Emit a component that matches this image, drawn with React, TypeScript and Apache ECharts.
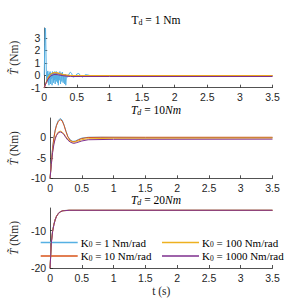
import React, { useEffect, useRef } from "react";
import * as echarts from "echarts";

const xTicks = [0, 0.5, 1, 1.5, 2, 2.5, 3, 3.5];
const seriesNames = ["K0 = 1 Nm/rad", "K0 = 10 Nm/rad", "K0 = 100 Nm/rad", "K0 = 1000 Nm/rad"];
const legendLabels = ["1", "10", "100", "1000"];
const panelTitles = ["1", "10", "20"];

// Panel 1: T_d = 1 Nm
const p1K1: number[][] = [
  [0, 0], [0.008, 2.5], [0.014, 3.8], [0.02, 3.7], [0.026, 2.0], [0.032, 0.3], [0.038, -0.5], [0.045, 0.3],
  [0.05, -0.2], [0.055, 0.35], [0.06, -0.6], [0.066, 0.1], [0.072, -0.8], [0.078, 0.2], [0.084, -0.4],
  [0.09, 0.3], [0.096, -0.7], [0.102, 0.2], [0.108, -0.3], [0.114, 0.1], [0.12, -0.8], [0.126, 0.3],
  [0.132, -0.2], [0.138, 0.2], [0.144, -0.6], [0.15, 0.1], [0.156, -0.4], [0.162, 0.3], [0.168, -0.7],
  [0.174, 0.2], [0.18, -0.3], [0.186, 0.3], [0.192, -0.5], [0.198, 0.1], [0.204, -0.6], [0.21, 0.2],
  [0.216, -0.8], [0.222, 0.0], [0.23, -0.4], [0.24, 0.3], [0.25, -0.7], [0.26, 0.2], [0.27, -0.5],
  [0.28, 0.25], [0.29, -0.6], [0.3, 0.1], [0.31, -0.7], [0.32, 0.1], [0.33, -0.8], [0.34, -0.1],
  [0.36, -0.15], [0.38, 0.1], [0.4, 0.25], [0.42, 0.15], [0.44, -0.15], [0.47, -0.1], [0.5, 0.1],
  [0.53, 0.15], [0.56, -0.05], [0.59, -0.15], [0.63, 0.05], [0.67, 0.02], [0.72, -0.05], [0.8, -0.05],
  [1.0, -0.05], [3.5, -0.05],
];
const p1K10: number[][] = [
  [0, -1], [0.03, -0.6], [0.06, -0.2], [0.1, 0.1], [0.15, 0.2], [0.2, 0.18], [0.25, 0.1], [0.3, 0.02],
  [0.4, -0.03], [0.5, -0.03], [1, -0.03], [3.5, -0.03],
];
const p1K100: number[][] = [
  [0, -1], [0.03, -0.55], [0.06, -0.15], [0.1, 0.12], [0.15, 0.22], [0.2, 0.2], [0.25, 0.12], [0.3, 0.05],
  [0.4, -0.02], [1, -0.03], [3.5, -0.03],
];
const p1K1000: number[][] = [
  [0, -1], [0.03, -0.6], [0.06, -0.3], [0.1, -0.05], [0.15, 0.06], [0.2, 0.05], [0.3, -0.05], [0.4, -0.1],
  [1, -0.1], [3.5, -0.1],
];

// Panel 2: T_d = 10 Nm
const p2K1: number[][] = [
  [0, -10], [0.02, -6], [0.04, -2.5], [0.06, 0], [0.08, 1.8], [0.1, 3], [0.13, 4.1], [0.16, 4.6], [0.19, 4.2],
  [0.22, 3], [0.25, 1.5], [0.28, 0.2], [0.32, -0.7], [0.36, -1], [0.4, -0.9], [0.45, -0.5], [0.5, -0.2],
  [0.6, 0], [0.8, 0], [1.5, -0.05], [3.5, -0.05],
];
const p2K10: number[][] = [
  [0, -10], [0.02, -6.1], [0.04, -2.7], [0.06, -0.2], [0.08, 1.6], [0.1, 2.8], [0.13, 3.9], [0.16, 4.3],
  [0.19, 4.0], [0.22, 2.9], [0.25, 1.4], [0.28, 0.1], [0.32, -0.8], [0.36, -1.1], [0.4, -1], [0.45, -0.6],
  [0.5, -0.3], [0.6, -0.05], [0.8, 0], [1.5, 0], [3.5, 0],
];
const p2K100: number[][] = [
  [0, -10], [0.02, -6.5], [0.04, -3.5], [0.06, -1.5], [0.08, -0.2], [0.1, 0.6], [0.13, 1.3], [0.16, 1.5],
  [0.19, 1.3], [0.22, 0.8], [0.25, 0.1], [0.28, -0.5], [0.32, -1], [0.37, -1.2], [0.42, -1], [0.5, -0.6],
  [0.6, -0.35], [1, -0.25], [3.5, -0.2],
];
const p2K1000: number[][] = [
  [0, -10], [0.02, -6.6], [0.04, -3.7], [0.06, -1.7], [0.08, -0.4], [0.1, 0.4], [0.13, 1.1], [0.16, 1.3],
  [0.19, 1.1], [0.22, 0.6], [0.25, -0.1], [0.28, -0.7], [0.32, -1.2], [0.37, -1.5], [0.42, -1.3],
  [0.5, -0.9], [0.6, -0.6], [1, -0.5], [3.5, -0.45],
];

// Panel 3: T_d = 20 Nm
const p3K1: number[][] = [
  [0, -20], [0.02, -13], [0.04, -10], [0.06, -8.3], [0.08, -7], [0.1, -6.2], [0.13, -5.4], [0.16, -5],
  [0.2, -4.7], [0.3, -4.6], [3.5, -4.6],
];
const p3K10: number[][] = [
  [0, -20], [0.02, -13.1], [0.04, -10.1], [0.06, -8.4], [0.08, -7.1], [0.1, -6.2], [0.13, -5.4], [0.16, -5],
  [0.2, -4.7], [0.3, -4.6], [3.5, -4.6],
];
const p3K100: number[][] = [
  [0, -20], [0.02, -13.2], [0.04, -10.2], [0.06, -8.4], [0.08, -7.1], [0.1, -6.3], [0.13, -5.5],
  [0.16, -5.05], [0.2, -4.75], [0.3, -4.62], [3.5, -4.62],
];
const p3K1000: number[][] = [
  [0, -20], [0.02, -13.3], [0.04, -10.3], [0.06, -8.5], [0.08, -7.2], [0.1, -6.3], [0.13, -5.5],
  [0.16, -5.05], [0.2, -4.75], [0.3, -4.62], [3.5, -4.62],
];

const yRanges = [
  { min: -1, max: 3.8, interval: 1 },
  { min: -10, max: 4.7, interval: 5 },
  { min: -20, max: -4, interval: 10 },
];

const colors = ["#55B0E3", "#D95319", "#EDB120", "#7E2F8E"];
const panelData = [
  [p1K1, p1K10, p1K100, p1K1000],
  [p2K1, p2K10, p2K100, p2K1000],
  [p3K1, p3K10, p3K100, p3K1000],
];

const gridTops = [28, 118, 208];
const gridHeights = [59.7, 60.3, 60];
const axisColor = "#262626";
const serif = "'Liberation Serif', 'DejaVu Serif', serif";
const sans = "'Liberation Sans', Arial, sans-serif";

export default function App() {
  const ref = useRef<HTMLDivElement>(null);
  useEffect(() => {
    if (!ref.current) return;
    const chart = echarts.init(ref.current, undefined, { renderer: "svg" });

    const grids = gridTops.map((top, i) => ({
      left: 40,
      right: 28.5,
      top,
      height: gridHeights[i],
    }));

    const xAxes = gridTops.map((_, i) => ({
      type: "value",
      gridIndex: i,
      min: xTicks[0],
      max: xTicks[xTicks.length - 1],
      interval: 0.5,
      axisLine: { show: true, onZero: false, lineStyle: { color: axisColor, width: 0.8 } },
      axisTick: { show: true, inside: true, length: 3, lineStyle: { color: axisColor, width: 0.8 } },
      splitLine: { show: false },
      axisLabel: { color: axisColor, fontSize: 10.5, fontFamily: sans, margin: 4 },
      name: i === 2 ? "t (s)" : "",
      nameLocation: "middle",
      nameGap: 17,
      nameTextStyle: { color: axisColor, fontSize: 11.5, fontFamily: serif },
    }));

    const yAxes = yRanges.map((r, i) => ({
      type: "value",
      gridIndex: i,
      min: r.min,
      max: r.max,
      interval: r.interval,
      axisLine: { show: true, onZero: false, lineStyle: { color: axisColor, width: 0.8 } },
      axisTick: { show: true, inside: true, length: 3, lineStyle: { color: axisColor, width: 0.8 } },
      splitLine: { show: false },
      axisLabel: { color: axisColor, fontSize: 10.5, fontFamily: sans, margin: 4, showMaxLabel: false },
      name: "{i|T\u0303} (Nm)",
      nameLocation: "middle",
      nameGap: 22,
      nameTextStyle: {
        color: axisColor,
        fontSize: 11.5,
        fontFamily: serif,
        rich: { i: { fontStyle: "italic", fontSize: 11.5, fontFamily: serif, color: axisColor } },
      },
    }));

    const series: any[] = [];
    panelData.forEach((panel, pi) => {
      panel.forEach((data, si) => {
        series.push({
          type: "line",
          name: seriesNames[si],
          xAxisIndex: pi,
          yAxisIndex: pi,
          data,
          showSymbol: false,
          symbol: "none",
          lineStyle: { color: colors[si], width: 1 },
          itemStyle: { color: colors[si] },
          z: 2 + si,
        });
      });
    });

    const titleRich = {
      a: { fontSize: 11.5, fontFamily: serif, fontWeight: "normal", color: "#000" },
      i: { fontSize: 11.5, fontFamily: serif, fontWeight: "normal", fontStyle: "italic", color: "#000" },
      s: { fontSize: 8, fontFamily: serif, fontWeight: "normal", color: "#000", padding: [5, 0, 0, 0] },
      si: { fontSize: 8, fontFamily: serif, fontWeight: "normal", fontStyle: "italic", color: "#000", padding: [5, 0, 0, 0] },
    };
    const titles = panelTitles.map((v, i) => ({
      text:
        i === 0
          ? `{a|T}{s|d}{a| = ${v} Nm}`
          : `{i|T}{si|d}{a| = ${v}}{i|Nm}`,
      left: 156,
      textAlign: "center",
      top: gridTops[i] - 15,
      padding: 0,
      textStyle: { fontWeight: "normal", rich: titleRich },
    }));

    const legendRich = {
      a: { fontSize: 11, fontFamily: serif, color: "#000" },
      s: { fontSize: 7.5, fontFamily: serif, color: "#000", padding: [4, 0, 0, 0] },
    };
    const legendFormatter = (name: string) => {
      const idx = seriesNames.indexOf(name);
      return `{a|K}{s|0}{a| = ${legendLabels[idx]} Nm/rad}`;
    };
    const legendBase = {
      orient: "vertical",
      top: 236.6,
      padding: 0,
      itemWidth: 37,
      itemHeight: 1.5,
      itemGap: 1.4,
      icon: "rect",
      formatter: legendFormatter,
      selectedMode: false,
      textStyle: { rich: legendRich, padding: [0, 0, 0, -2], lineHeight: 12 },
    };

    chart.setOption({
      animation: false,
      backgroundColor: "#fff",
      title: titles,
      grid: grids,
      xAxis: xAxes,
      yAxis: yAxes,
      legend: [
        { ...legendBase, left: 40.7, data: [seriesNames[0], seriesNames[1]] },
        { ...legendBase, left: 162, data: [seriesNames[2], seriesNames[3]] },
      ],
      series,
    });
    return () => chart.dispose();
  }, []);
  return <div ref={ref} style={{ width: 301, height: 301, position: "absolute", left: 0, top: 0 }} />;
}
